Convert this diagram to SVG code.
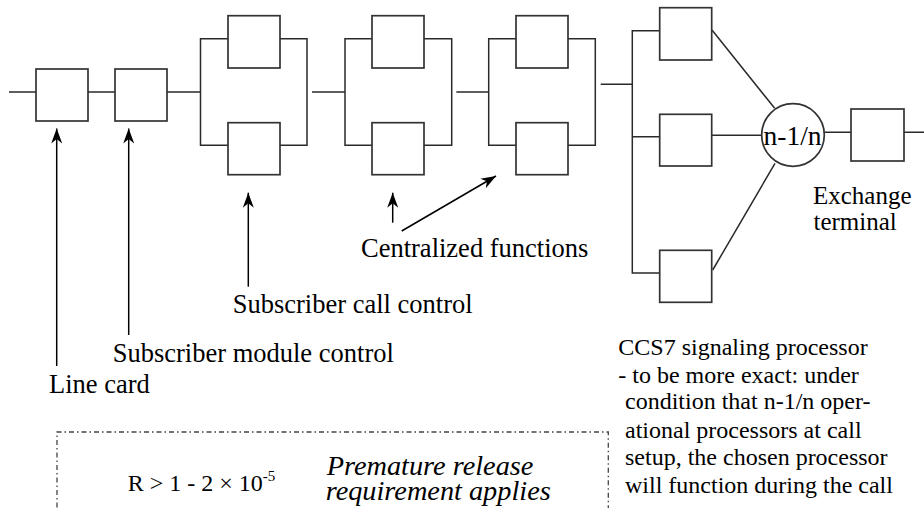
<svg xmlns="http://www.w3.org/2000/svg" width="924" height="508" viewBox="0 0 924 508">
<style>
.bx{fill:#fff;stroke:#333;stroke-width:1.7}
.ln{fill:none;stroke:#2a2a2a;stroke-width:1.5}
.ar{fill:none;stroke:#000;stroke-width:1.5;marker-end:url(#ah)}
.t{font-family:"Liberation Serif","Times New Roman",serif;fill:#000}
.l{font-size:26.5px}
.s{font-size:24px}
.i{font-size:28.3px;font-style:italic}
.dash{fill:none;stroke:#444;stroke-width:1.3;stroke-dasharray:5 3 1.5 3}
</style>
<defs>
<marker id="ah" viewBox="-16 -6 17 12" refX="0" refY="0" markerWidth="17" markerHeight="12" orient="auto" markerUnits="userSpaceOnUse">
<path d="M0,0 L-15,-5.5 L-10.5,0 L-15,5.5 Z" fill="#000"/>
</marker>
</defs>
<rect width="924" height="508" fill="#fff"/>

<g id="connectors">
<path class="ln" d="M9,92 H36 M88,92 H115 M167,92 H200.5"/>
<path class="ln" d="M228,38.7 H200.5 V145.3 H228 M280,38.7 H307 V145.3 H280 M312,92 H345"/>
<path class="ln" d="M372,38.7 H345 V145.3 H372 M424,38.7 H451.7 V145.3 H424 M456.3,92 H488.7"/>
<path class="ln" d="M516,38.7 H488.7 V145.3 H516 M568,38.7 H595.3 V145.3 H568 M600.7,84.3 H632.3"/>
<path class="ln" d="M659.7,30.7 H632.3 V273 H659.7 M632.3,136.7 H659.7"/>
<path class="ln" d="M712,30 L774.7,108.3 M712,135.3 H761.7 M712.7,270 L775,163.3 M824.3,132.3 H851 M904,132.3 H924"/>
<path class="ar" d="M56.7,366 V128.5"/>
<path class="ar" d="M128.7,335 V128.5"/>
<path class="ar" d="M248.3,286.7 V192.7"/>
<path class="ar" d="M392.7,222.7 V192.7"/>
<path class="ar" d="M401.7,231 L496,176"/>
</g>

<g id="line-card"><rect class="bx" x="36" y="69" width="52" height="52"/></g>
<g id="subscriber-module-control"><rect class="bx" x="115" y="69" width="52" height="52"/></g>
<g id="subscriber-call-control-a"><rect class="bx" x="228" y="15.7" width="52" height="52.3"/></g>
<g id="subscriber-call-control-b"><rect class="bx" x="228" y="122.7" width="52" height="52"/></g>
<g id="centralized-a1"><rect class="bx" x="372" y="15.7" width="52" height="52.3"/></g>
<g id="centralized-a2"><rect class="bx" x="372" y="122.7" width="52" height="52"/></g>
<g id="centralized-b1"><rect class="bx" x="516" y="15.7" width="52" height="52.3"/></g>
<g id="centralized-b2"><rect class="bx" x="516" y="122.7" width="52" height="52"/></g>
<g id="ccs7-1"><rect class="bx" x="659.7" y="7.7" width="52" height="52.3"/></g>
<g id="ccs7-2"><rect class="bx" x="659.7" y="114.3" width="52" height="51.7"/></g>
<g id="ccs7-3"><rect class="bx" x="659.7" y="250.3" width="52" height="52"/></g>
<g id="voter"><circle class="bx" cx="793" cy="135" r="31.3"/><text class="t" x="792.5" y="145" font-size="27.5" text-anchor="middle">n-1/n</text></g>
<g id="exchange-terminal"><rect class="bx" x="851" y="109" width="53" height="52"/></g>

<g id="labels">
<text class="t" x="813" y="204" font-size="25">Exchange</text>
<text class="t" x="813.5" y="230" font-size="25">terminal</text>
<text class="t l" x="361" y="257.3">Centralized functions</text>
<text class="t l" x="232.7" y="313.3">Subscriber call control</text>
<text class="t l" x="112.7" y="361.7">Subscriber module control</text>
<text class="t l" x="49" y="392.7">Line card</text>
<text class="t s" x="618.3" y="355">CCS7 signaling processor</text>
<text class="t s" x="618.3" y="383.3">- to be more exact: under</text>
<text class="t s" x="625" y="409.3">condition that n-1/n oper-</text>
<text class="t s" x="625" y="438.3">ational processors at call</text>
<text class="t s" x="625" y="465">setup, the chosen processor</text>
<text class="t s" x="625" y="492.7">will function during the call</text>
</g>

<g id="requirement-box">
<path class="dash" d="M57,520 V432 H608.3 V520"/>
<text class="t s" x="127.7" y="491.3">R &gt; 1 - 2 × 10<tspan font-size="15" dy="-10">-5</tspan></text>
<text class="t i" x="326.7" y="474.7">Premature release</text>
<text class="t i" x="325.7" y="500">requirement applies</text>
</g>
</svg>
